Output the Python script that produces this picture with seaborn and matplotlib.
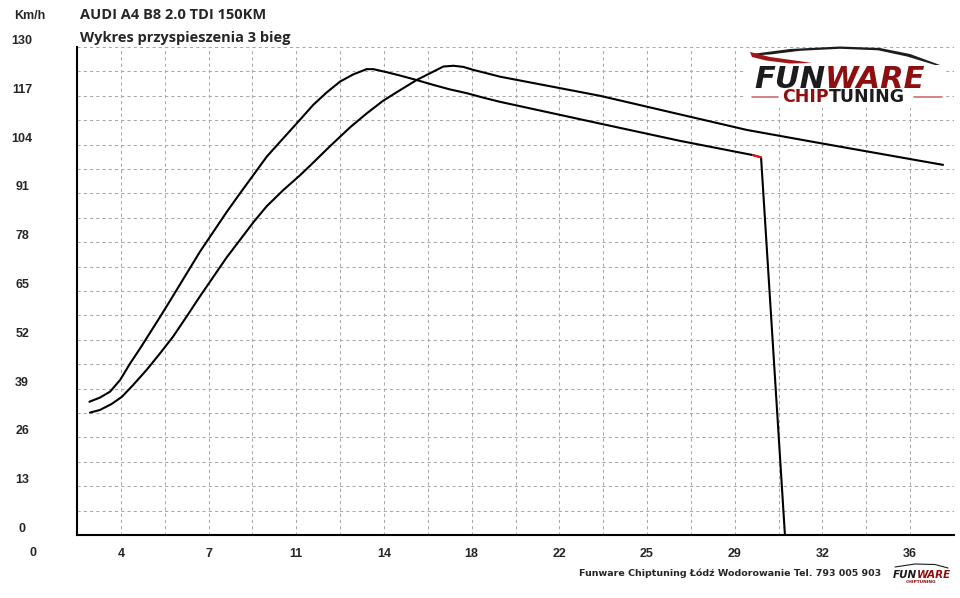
import numpy as np
import pandas as pd
import matplotlib
matplotlib.use("Agg")
import matplotlib.pyplot as plt
import matplotlib.transforms as mtransforms
from matplotlib.patches import Rectangle, Polygon
from matplotlib.text import Annotation
import seaborn as sns

# dane (czas [s], predkosc [km/h])
czas_a = [2.31, 2.74, 3.16, 3.57, 3.98, 4.39, 4.80, 5.21, 5.62, 6.85, 7.40, 7.95,
          8.49, 9.04, 9.59, 10.20, 10.95, 11.50, 12.05, 12.60, 13.14, 13.69, 13.96,
          14.51, 15.06, 15.74, 16.43, 17.11, 17.80, 18.48, 19.16, 23.27, 26.55,
          29.55, 29.88, 30.86]
predkosc_a = [35.5, 36.6, 38.2, 41.3, 45.7, 49.7, 53.9, 58.1, 62.4, 75.5, 80.8, 86.1,
              91.0, 95.9, 100.8, 105.2, 110.6, 114.6, 117.9, 120.8, 122.7, 124.1, 124.1,
              123.3, 122.4, 121.2, 119.9, 118.7, 117.7, 116.5, 115.4, 109.6, 105.0,
              101.2, 100.6, 0.0]
czas_b = [2.33, 2.74, 3.22, 3.64, 4.11, 4.66, 5.21, 5.75, 6.30, 6.85, 7.40, 7.95,
          8.49, 9.04, 9.59, 10.27, 10.95, 11.37, 12.19, 13.01, 13.69, 14.37, 15.06,
          15.74, 16.29, 16.84, 17.25, 17.66, 18.07, 18.62, 19.16, 23.27, 29.30,
          32.30, 37.35]
predkosc_b = [32.6, 33.3, 34.9, 36.8, 40.0, 44.0, 48.4, 52.9, 58.2, 63.6, 68.8, 74.0,
              78.6, 83.3, 87.6, 91.9, 95.8, 98.4, 103.6, 108.6, 112.3, 115.7, 118.5,
              121.2, 123.0, 124.8, 125.0, 124.7, 123.9, 123.0, 122.1, 117.0, 107.9,
              104.4, 98.6]
# koncowka krzywej A (przed spadkiem) zaznaczona na czerwono
czerwony_od = 33
czerwony_do = 35

y_ticks = list(range(0, 131, 13))
x_ticks = [3.6, 7.2, 10.8, 14.4, 18.0, 21.6, 25.2, 28.8, 32.4, 36.0]
x_labels = ["4", "7", "11", "14", "18", "22", "25", "29", "32", "36"]

df_a = pd.DataFrame({"t": czas_a, "v": predkosc_a})
df_b = pd.DataFrame({"t": czas_b, "v": predkosc_b})
df_red = df_a.iloc[czerwony_od:czerwony_do]

sns.set_style("white")
plt.rcParams["font.family"] = ["Liberation Sans", "DejaVu Sans"]

W, H = 960, 598
fig = plt.figure(figsize=(9.6, 5.98), dpi=100)
ax = fig.add_axes([77 / W, 1 - 535 / H, (954 - 77) / W, (535 - 47) / H])


def px(x, y):
    return (x / W, 1 - y / H)


sns.lineplot(data=df_b, x="t", y="v", ax=ax, color="black", lw=1.5,
             sort=False, estimator=None, zorder=3)
sns.lineplot(data=df_a, x="t", y="v", ax=ax, color="black", lw=1.5,
             sort=False, estimator=None, zorder=3)
sns.lineplot(data=df_red, x="t", y="v", ax=ax, color="#ff1010", lw=1.5,
             sort=False, estimator=None, zorder=4)

ax.set_xlim(1.8, 37.8)
ax.set_ylim(0, 130)
ax.set_xlabel("")
ax.set_ylabel("")

# siatka
ax.set_xticks([1.8 + 3.6 * k for k in range(11)])
ax.set_xticklabels([])
ax.set_xticks(x_ticks, x_labels, minor=True)
ax.set_yticks(y_ticks)
ax.set_yticks([v + 6.5 for v in y_ticks[:-1]], minor=True)
ax.grid(True, which="both", color="#a8a8a8", linestyle=(0, (3, 3)), lw=0.75)
ax.set_axisbelow(True)

ax.tick_params(axis="x", which="major", length=4, width=1.2, direction="out", color="black")
ax.tick_params(axis="x", which="minor", length=0, pad=9.5, labelsize=9)
ax.tick_params(axis="y", which="major", length=3, width=1.2, direction="out",
               color="black", pad=36.5, labelsize=9)
ax.tick_params(axis="y", which="minor", length=0)
for lab in ax.get_xticklabels(minor=True):
    lab.set_fontweight("bold")
for lab in ax.get_yticklabels():
    lab.set_fontweight("bold")
    lab.set_horizontalalignment("center")
    lab.set_verticalalignment("center")
    lab.set_transform(lab.get_transform() +
                      mtransforms.ScaledTranslation(0, 6 / 100, fig.dpi_scale_trans))

# etykieta "0" osi czasu (poza zakresem osi)
ax.text(0, -0.037, "0", transform=mtransforms.blended_transform_factory(ax.transData, ax.transAxes),
        ha="center", va="center", fontsize=9, fontweight="bold", clip_on=False)

for s in ["top", "right"]:
    ax.spines[s].set_visible(False)
for s in ["left", "bottom"]:
    ax.spines[s].set_color("black")
    ax.spines[s].set_linewidth(1.5)

# teksty
fig.text(*px(30, 19), "Km/h", ha="center", va="baseline", fontsize=9, fontweight="bold")
fig.text(*px(80, 19), "AUDI A4 B8 2.0 TDI 150KM", ha="left", va="baseline",
         fontsize=10.5, fontweight="bold", family="Open Sans")
fig.text(*px(80, 42), "Wykres przyspieszenia 3 bieg", ha="left", va="baseline",
         fontsize=10.5, fontweight="bold", family="Open Sans")

# logo
czarny = "#1c1c1c"
bordo = "#8e0f0f"


def dopisz(poprzedni, tekst, **kw):
    # tekst doklejony z prawej strony poprzedniego napisu
    a = Annotation(tekst, xy=(1, 0), xycoords=poprzedni, ha="left", va="bottom",
                   annotation_clip=False, **kw)
    fig.add_artist(a)
    return a


fig.add_artist(Rectangle(px(745, 108), 201 / W, 60 / H, transform=fig.transFigure,
                         facecolor="white", edgecolor="none", zorder=5))
dach = [(752, 54), (790, 49), (840, 46.5), (880, 48), (910, 54), (940, 65),
        (935, 65), (907, 56.5), (878, 50.3), (840, 48.8), (800, 50.8), (770, 54.5), (752, 55.5)]
fig.add_artist(Polygon([px(*p) for p in dach], closed=True, transform=fig.transFigure,
                       facecolor=czarny, edgecolor="none", zorder=6))
luk = [(750, 52), (770, 57), (795, 60.5), (812, 63), (790, 63.5), (766, 60.5), (752, 57)]
fig.add_artist(Polygon([px(*p) for p in luk], closed=True, transform=fig.transFigure,
                       facecolor="#a01515", edgecolor="none", zorder=6))
logo_kw = dict(fontweight="bold", style="italic", family="DejaVu Sans", zorder=7)
t_fun = fig.text(*px(754, 88), "FUN", ha="left", va="baseline", fontsize=22,
                 color=czarny, **logo_kw)
dopisz(t_fun, "WARE", fontsize=22, color=bordo, **logo_kw)
chip_kw = dict(fontweight="bold", family="DejaVu Sans", zorder=7)
t_chip = fig.text(*px(782, 101.5), "CHIP", ha="left", va="baseline", fontsize=12.5,
                  color=bordo, **chip_kw)
dopisz(t_chip, "TUNING", fontsize=12.5, color=czarny, **chip_kw)
fig.add_artist(plt.Line2D([752 / W, 778 / W], [1 - 97 / H] * 2, color="#c87070", lw=1.2, zorder=6))
fig.add_artist(plt.Line2D([914 / W, 942 / W], [1 - 97 / H] * 2, color="#c87070", lw=1.2, zorder=6))

# stopka
fig.text(*px(730, 573), "Funware Chiptuning Łódź Wodorowanie Tel. 793 005 903",
         ha="center", va="center", fontsize=6.8, fontweight="bold", family="DejaVu Sans")
t_fun2 = fig.text(*px(893, 578), "FUN", ha="left", va="baseline", fontsize=7.5,
                  color=czarny, **logo_kw)
dopisz(t_fun2, "WARE", fontsize=7.5, color=bordo, **logo_kw)
fig.text(*px(921, 582), "CHIPTUNING", ha="center", va="center", fontsize=3.2,
         fontweight="bold", family="DejaVu Sans", color=bordo)
fig.add_artist(plt.Line2D([895 / W, 915 / W, 935 / W, 948 / W],
                          [1 - 567 / H, 1 - 564 / H, 1 - 564.5 / H, 1 - 568 / H],
                          color=czarny, lw=0.8))

fig.savefig("out.png", dpi=100)
